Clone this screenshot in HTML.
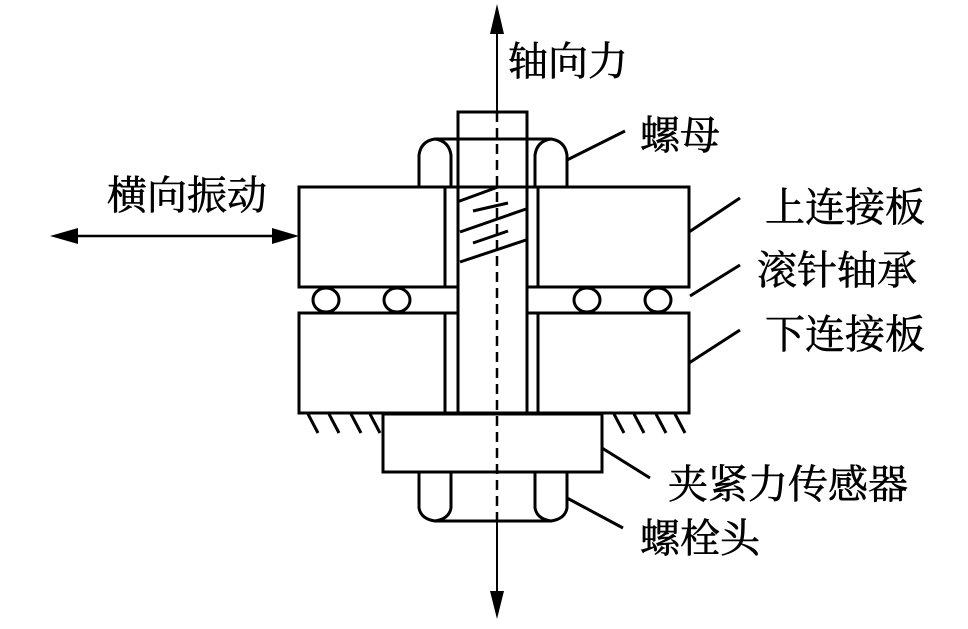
<!DOCTYPE html>
<html><head><meta charset="utf-8"><style>
html,body{margin:0;padding:0;background:#fff;}
svg{display:block;}
text{font-family:"Liberation Serif","Noto Serif CJK SC",serif;font-size:40px;fill:#000;stroke:#000;stroke-width:0.6;}
</style></head><body>
<svg width="968" height="629" viewBox="0 0 968 629" xmlns="http://www.w3.org/2000/svg">
<g fill="none" stroke="#000" stroke-width="3">
<rect x="299" y="187" width="146" height="100"/>
<rect x="538" y="187" width="151" height="100"/>
<rect x="299" y="313" width="146" height="100"/>
<rect x="538" y="313" width="151" height="100"/>
<line x1="445" y1="187" x2="538" y2="187"/>
<line x1="445" y1="413" x2="538" y2="413"/>
<line x1="299" y1="287" x2="458" y2="287"/>
<line x1="299" y1="313" x2="458" y2="313"/>
<line x1="527" y1="287" x2="689" y2="287"/>
<line x1="527" y1="313" x2="689" y2="313"/>
<ellipse cx="326" cy="300" rx="13" ry="12"/>
<ellipse cx="397" cy="300" rx="13" ry="12"/>
<ellipse cx="587" cy="300" rx="13" ry="12"/>
<ellipse cx="658" cy="300" rx="13" ry="12"/>
<rect x="458" y="112" width="69" height="301"/>
<path d="M419 187 V155 Q421 141 435 139 H551 Q565 141 567 155 V187"/>
<path d="M451 187 V155 Q449 141 435 139"/>
<path d="M535 187 V155 Q537 141 551 139"/>
<line x1="457" y1="202" x2="498" y2="187"/>
<line x1="473" y1="211" x2="508" y2="203"/>
<line x1="460" y1="232" x2="526" y2="209"/>
<line x1="473" y1="243" x2="508" y2="231"/>
<line x1="460" y1="262" x2="526" y2="240"/>
<rect x="383" y="414" width="219" height="58"/>
<path d="M419 472 V508 Q421 519 435 521 H551 Q565 519 567 508 V472"/>
<path d="M451 472 V508 Q449 519 435 521"/>
<path d="M535 472 V508 Q537 519 551 521"/>
<line x1="308" y1="414" x2="318" y2="433"/>
<line x1="329" y1="414" x2="339" y2="433"/>
<line x1="351" y1="414" x2="361" y2="433"/>
<line x1="370" y1="414" x2="380" y2="433"/>
<line x1="614" y1="414" x2="624" y2="433"/>
<line x1="634" y1="414" x2="644" y2="433"/>
<line x1="656" y1="414" x2="666" y2="433"/>
<line x1="675" y1="414" x2="685" y2="433"/>
<line x1="567" y1="160" x2="625" y2="131"/>
<line x1="689" y1="232" x2="740" y2="198"/>
<line x1="690" y1="296" x2="740" y2="265"/>
<line x1="689" y1="363" x2="740" y2="330"/>
<line x1="602" y1="448" x2="650" y2="478"/>
<line x1="567" y1="498" x2="623" y2="528"/>
<line x1="60" y1="236" x2="290" y2="236" stroke-width="2.5"/>
</g>
<line x1="497" y1="12" x2="497" y2="112" stroke="#000" stroke-width="2"/>
<line x1="497" y1="112" x2="497" y2="521" stroke="#000" stroke-width="2.5" stroke-dasharray="10,6"/>
<line x1="497" y1="521" x2="497" y2="600" stroke="#000" stroke-width="2"/>
<polygon points="497,4 490,34 504,34" fill="#000"/>
<polygon points="497,619 490,591 504,591" fill="#000"/>
<polygon points="50,236 78,228 78,244" fill="#000"/>
<polygon points="299,236 272,228 272,244" fill="#000"/>
<text x="508" y="75">轴向力</text>
<text x="640" y="149">螺母</text>
<text x="107" y="209">横向振动</text>
<text x="765" y="221">上连接板</text>
<text x="757" y="284">滚针轴承</text>
<text x="765" y="348">下连接板</text>
<text x="668" y="498">夹紧力传感器</text>
<text x="640" y="552">螺栓头</text>
</svg>
</body></html>
